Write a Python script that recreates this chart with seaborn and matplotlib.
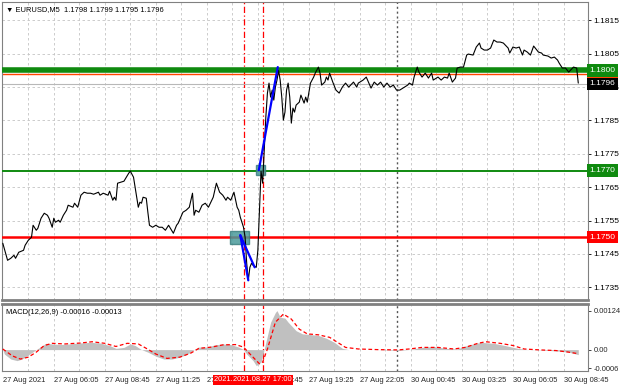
import numpy as np
import pandas as pd
import matplotlib
matplotlib.use("Agg")
import matplotlib.pyplot as plt
import matplotlib.transforms as mtransforms
from matplotlib.patches import Rectangle
import seaborn as sns

# EURUSD M5 closes, bar 0 = 27 Aug 03:25
price_pts = [
    (0, 1.17482), (3, 1.17431), (5, 1.17437), (7, 1.17446), (8, 1.17437), (10, 1.17455),
    (13, 1.17461), (14, 1.17476), (16, 1.17491), (18, 1.17500), (19, 1.17536), (21, 1.17521),
    (22, 1.17527), (24, 1.17557), (26, 1.17572), (28, 1.17566), (29, 1.17557), (31, 1.17530),
    (32, 1.17557), (33, 1.17545), (35, 1.17551), (36, 1.17545), (38, 1.17566), (40, 1.17581),
    (41, 1.17596), (44, 1.17590), (45, 1.17602), (47, 1.17590), (49, 1.17626), (51, 1.17635),
    (53, 1.17632), (55, 1.17632), (57, 1.17629), (60, 1.17635), (61, 1.17626), (63, 1.17632),
    (66, 1.17626), (67, 1.17638), (69, 1.17611), (70, 1.17620), (71, 1.17611), (72, 1.17662),
    (74, 1.17665), (76, 1.17668), (79, 1.17692), (80, 1.17698),
    (82, 1.17680), (83, 1.17650), (85, 1.17590), (86, 1.17605), (87, 1.17602), (88, 1.17620),
    (90, 1.17617), (91, 1.17575), (92, 1.17536), (94, 1.17530), (96, 1.17536), (98, 1.17530),
    (100, 1.17530), (102, 1.17521), (104, 1.17536), (107, 1.17512), (109, 1.17536), (110, 1.17542),
    (113, 1.17575), (115, 1.17581), (117, 1.17590), (119, 1.17632), (120, 1.17566), (121, 1.17581),
    (123, 1.17575), (125, 1.17596), (127, 1.17602), (129, 1.17590), (132, 1.17620), (134, 1.17662),
    (136, 1.17635), (138, 1.17626), (140, 1.17611), (141, 1.17620), (143, 1.17611), (145, 1.17635),
    (147, 1.17590), (148, 1.17581), (149, 1.17560), (151, 1.17530), (152, 1.17500),
    (153, 1.17422), (154, 1.17371), (155, 1.17410), (156, 1.17422), (157, 1.17416), (159, 1.17410),
    (160, 1.17461), (161, 1.17580), (162, 1.17698), (163, 1.17662), (164, 1.17761), (165, 1.17860),
    (166, 1.17932), (167, 1.17962), (168, 1.17920), (169, 1.17941), (170, 1.17911), (171, 1.17950),
    (172, 1.17971), (173, 1.18000), (174, 1.17971), (175, 1.17920), (176, 1.17851), (177, 1.17875),
    (178, 1.17941), (179, 1.17962), (180, 1.17920), (181, 1.17842), (182, 1.17887), (183, 1.17875),
    (184, 1.17896), (186, 1.17905), (187, 1.17926), (189, 1.17902), (190, 1.17920), (191, 1.17905),
    (193, 1.17962), (195, 1.17980), (196, 1.17992), (198, 1.18010), (199, 1.17992), (200, 1.17956),
    (202, 1.17965), (203, 1.17980), (204, 1.17971), (205, 1.17992), (207, 1.17965), (209, 1.17941),
    (211, 1.17932), (213, 1.17950), (215, 1.17962), (217, 1.17950), (220, 1.17965), (222, 1.17950),
    (223, 1.17962), (226, 1.17971), (228, 1.17980),
    (231, 1.17947), (233, 1.17965), (235, 1.17956), (237, 1.17965), (239, 1.17950), (241, 1.17962),
    (243, 1.17950), (245, 1.17956), (247, 1.17941), (249, 1.17941), (252, 1.17950), (254, 1.17956),
    (255, 1.17962), (257, 1.17956), (258, 1.17980), (260, 1.18010), (261, 1.17995), (263, 1.17980),
    (265, 1.17992), (267, 1.17977), (269, 1.17992), (270, 1.17971), (273, 1.17980), (275, 1.17971),
    (277, 1.17980), (279, 1.17977), (280, 1.17992), (282, 1.17965), (284, 1.17977), (285, 1.18007),
    (287, 1.18010),
    (289, 1.18010), (291, 1.18046), (292, 1.18049), (295, 1.18046), (297, 1.18070), (299, 1.18082),
    (300, 1.18067), (302, 1.18061), (304, 1.18061), (306, 1.18067), (308, 1.18091), (310, 1.18085),
    (312, 1.18085), (314, 1.18082), (317, 1.18067), (318, 1.18052), (320, 1.18070), (322, 1.18067),
    (324, 1.18070), (326, 1.18046), (327, 1.18061), (329, 1.18055), (331, 1.18046), (333, 1.18073),
    (336, 1.18055), (338, 1.18052), (339, 1.18046), (342, 1.18043), (344, 1.18037), (346, 1.18040),
    (348, 1.18031), (349, 1.18022), (351, 1.18007), (353, 1.18007), (355, 1.17995), (358, 1.18010),
    (360, 1.18007), (361, 1.17962),
]

# MACD(12,26,9) main (histogram) and signal
macd_pts = [
    (0, 0.0), (1, -0.00014), (5, -0.00030), (9, -0.00035), (12, -0.00030), (16, -0.00017),
    (21, 0.0), (25, 0.00013), (27, 0.00020), (31, 0.00018), (36, 0.00016), (42, 0.00018),
    (48, 0.00021), (55, 0.00023), (61, 0.00021), (67, 0.00013), (71, 0.00004), (76, 0.00007),
    (80, 0.00018), (83, 0.00013), (87, 0.0), (91, -0.00008), (96, -0.00021), (101, -0.00030),
    (106, -0.00030), (111, -0.00024), (116, -0.00014), (120, 0.0), (123, 0.00008), (128, 0.00008),
    (133, 0.00015), (138, 0.00018), (143, 0.00016), (148, 0.00008), (151, 0.0), (153, -0.00014),
    (157, -0.00035), (159, -0.00051), (162, -0.00040), (163, -0.00019), (165, 0.00023),
    (168, 0.00087), (171, 0.00118), (172, 0.00124), (174, 0.00103), (177, 0.00100), (179, 0.00087),
    (182, 0.00071), (184, 0.00060), (188, 0.00050), (193, 0.00048), (198, 0.00045), (203, 0.00036),
    (208, 0.00023), (213, 0.00004), (217, 0.0), (223, 0.0), (235, 0.0), (248, -0.00003), (255, 0.0),
    (263, 0.00007), (270, 0.00010), (278, 0.00004), (285, 0.00002), (290, 0.00011), (295, 0.00018),
    (300, 0.00023), (308, 0.00020), (315, 0.00013), (323, 0.00004), (330, 0.0), (337, -0.00001),
    (347, -0.00004), (355, -0.00008), (361, -0.00016),
]
signal_pts = [
    (0, 0.00002), (6, -0.00020), (11, -0.00030), (16, -0.00024), (21, -0.00008), (26, 0.00013),
    (31, 0.00020), (39, 0.00018), (49, 0.00021), (56, 0.00025), (64, 0.00020), (71, 0.00010),
    (78, 0.00020), (85, 0.00018), (90, 0.00004), (96, -0.00014), (103, -0.00028), (111, -0.00024),
    (118, -0.00011), (123, 0.00004), (131, 0.00008), (138, 0.00015), (146, 0.00016), (151, 0.00008),
    (156, -0.00019), (161, -0.00045), (163, -0.00040), (166, 0.00002), (171, 0.00087), (176, 0.00113),
    (181, 0.00097), (186, 0.00065), (191, 0.00050), (198, 0.00047), (205, 0.00039), (210, 0.00023),
    (215, 0.00007), (223, 0.00002), (235, 0.0), (248, -0.00001), (255, 0.00002), (263, 0.00007),
    (273, 0.00007), (283, 0.00002), (290, 0.00007), (298, 0.00020), (303, 0.00025), (312, 0.00020),
    (320, 0.00013), (327, 0.00002), (337, -0.00001), (347, -0.00003), (355, -0.00008), (361, -0.00013),
]

tick_bars = [0, 32, 64, 96, 128, 160, 192, 224, 256, 288, 320, 352]
tick_labels = ["27 Aug 2021", "27 Aug 06:05", "27 Aug 08:45", "27 Aug 11:25", "27 Aug 14:05",
               "27 Aug 16:45", "27 Aug 19:25", "27 Aug 22:05", "30 Aug 00:45", "30 Aug 03:25",
               "30 Aug 06:05", "30 Aug 08:45"]
price_ticks = [1.1735, 1.1745, 1.1755, 1.1765, 1.1775, 1.1785, 1.1795, 1.1805, 1.1815]

levels = [1.1800, 1.1770, 1.1750]
level_colors = ["#0f8a0f", "#0f8a0f", "#ff0000"]
level_widths = [4.0, 1.4, 1.8]
order_line = 1.17990
bid_price = 1.1796

# trade signals: entry zones and moves
zone_bars = [148.3, 161.5]
zone_prices = [1.17500, 1.17701]
move_lines = [[(149, 1.17506), (154, 1.17371)],
              [(149, 1.17506), (158, 1.17410)],
              [(160.6, 1.17701), (172.5, 1.18010)]]
event_bars = [151, 163]
event_labels = ["2021.08.27 16:00", "2021.08.27 17:00"]
day_sep = 247

price = pd.DataFrame(price_pts, columns=["bar", "close"])
macd = pd.DataFrame(macd_pts, columns=["bar", "value"])
signal = pd.DataFrame(signal_pts, columns=["bar", "value"])

sns.set_style("white")
plt.rcParams["font.family"] = ["Liberation Sans", "DejaVu Sans"]
fs = 5.4     # time labels, captions
fs_p = 6.0   # price scale

fig = plt.figure(figsize=(6.2, 3.88), dpi=100)
ax = fig.add_axes([2 / 620, 88 / 388, 586 / 620, 298 / 388])
ax2 = fig.add_axes([2 / 620, 17 / 388, 586 / 620, 67 / 388], sharex=ax)

xlim = (-0.5, 367.1)
grid_kw = dict(color="#c4c4c4", lw=0.6, ls=(0, (3, 3)), zorder=0)

# ---- price panel
for t in np.arange(16, 368, 16):
    ax.axvline(t, **grid_kw)
    ax2.axvline(t, **grid_kw)
for p in price_ticks:
    ax.axhline(p, **grid_kw)

ax.axvline(day_sep, color="#555555", lw=1.0, ls=(0, (1.5, 2)), zorder=1)
ax2.axvline(day_sep, color="#555555", lw=1.0, ls=(0, (1.5, 2)), zorder=1)

for b in event_bars:
    ax.axvline(b, color="red", lw=0.9, ls=(0, (5, 2, 1, 2)), zorder=2)
    ax2.axvline(b, color="red", lw=0.9, ls=(0, (5, 2, 1, 2)), zorder=2)

ax.axhline(bid_price, color="#b8b8b8", lw=0.8, zorder=2)
ax.axhline(order_line, color="#ff4500", lw=1.0, zorder=2)
for lv, c, w in zip(levels, level_colors, level_widths):
    ax.axhline(lv, color=c, lw=w, zorder=3)

for b, p in zip(zone_bars, zone_prices):
    hw = 6.0 if b < 150 else 2.8
    hh = 0.00019 if b < 150 else 0.00015
    ax.add_patch(Rectangle((b - hw, p - hh), 2 * hw, 2 * hh, fc="#4a9a9a", ec="#3d8080",
                           alpha=0.85, zorder=4))

sns.lineplot(data=price, x="bar", y="close", ax=ax, color="black", lw=0.8,
             estimator=None, sort=False, zorder=5)

for seg in move_lines:
    xs, ys = zip(*seg)
    ax.plot(xs, ys, color="#0000ff", lw=1.6, zorder=6, solid_capstyle="round")

ax.set_xlim(*xlim)
ax.set_ylim(1.17312, 1.18205)
ax.yaxis.tick_right()
ax.set_yticks(price_ticks)
ax.set_yticklabels([f"{p:.4f}" for p in price_ticks], fontsize=fs_p)
ax.tick_params(axis="y", length=2.5, width=0.6, pad=1.5, colors="black")
ax.tick_params(axis="x", bottom=False, labelbottom=False)
ax.set_xlabel("")
ax.set_ylabel("")

trans = mtransforms.blended_transform_factory(ax.transAxes, ax.transData)
label_specs = [(order_line, "1.1799", "#ff4500", 7), (levels[0], "1.1800", "#0f8a0f", 8),
               (bid_price, "1.1796", "black", 8), (levels[1], "1.1770", "#0f8a0f", 8),
               (levels[2], "1.1750", "#ff0000", 8)]
for y, txt, c, z in label_specs:
    ax.text(1.003, y, txt, transform=trans, ha="left", va="center", fontsize=fs_p, color="white",
            zorder=z, clip_on=False,
            bbox=dict(boxstyle="square,pad=0.32", fc=c, ec="none"))

ax.text(0.006, 0.985, "\u25bc EURUSD,M5  1.1798 1.1799 1.1795 1.1796", transform=ax.transAxes,
        ha="left", va="top", fontsize=fs, color="black")

for s in ax.spines.values():
    s.set_color("#808080")
    s.set_linewidth(0.8)
ax.spines["bottom"].set_linewidth(2.0)

# ---- MACD panel
ax2.fill_between(macd["bar"], macd["value"], 0, color="#c0c0c0", lw=0, zorder=3)
sns.lineplot(data=signal, x="bar", y="value", ax=ax2, color="red", lw=0.9,
             estimator=None, sort=False, zorder=4)
ax2.lines[-1].set_linestyle((0, (3, 2)))
ax2.set_ylim(-0.00068, 0.00145)
ax2.yaxis.tick_right()
ax2.set_yticks([-0.0006, 0.0, 0.00124])
ax2.set_yticklabels(["-0.0006", "0.00", "0.00124"], fontsize=fs)
ax2.tick_params(axis="y", length=2.5, width=0.6, pad=1.5)
ax2.set_xticks(tick_bars)
ax2.set_xticklabels(tick_labels, fontsize=fs, ha="left")
ax2.tick_params(axis="x", length=2.5, width=0.6, pad=2)
ax2.set_xlabel("")
ax2.set_ylabel("")
ax2.set_xlim(*xlim)
ax2.text(0.006, 0.93, "MACD(12,26,9) -0.00016 -0.00013", transform=ax2.transAxes,
         ha="left", va="top", fontsize=fs, color="black")
for s in ax2.spines.values():
    s.set_color("#808080")
    s.set_linewidth(0.8)
ax2.spines["top"].set_linewidth(2.0)

xtrans = mtransforms.blended_transform_factory(ax2.transData, ax2.transAxes)
for b, txt in zip(event_bars, event_labels):
    ax2.text(b, -0.13, txt, transform=xtrans, ha="center", va="center", fontsize=fs,
             color="white", clip_on=False, zorder=10,
             bbox=dict(boxstyle="square,pad=0.2", fc="#ff0000", ec="none"))

fig.savefig("out.png", dpi=100, facecolor="white")
